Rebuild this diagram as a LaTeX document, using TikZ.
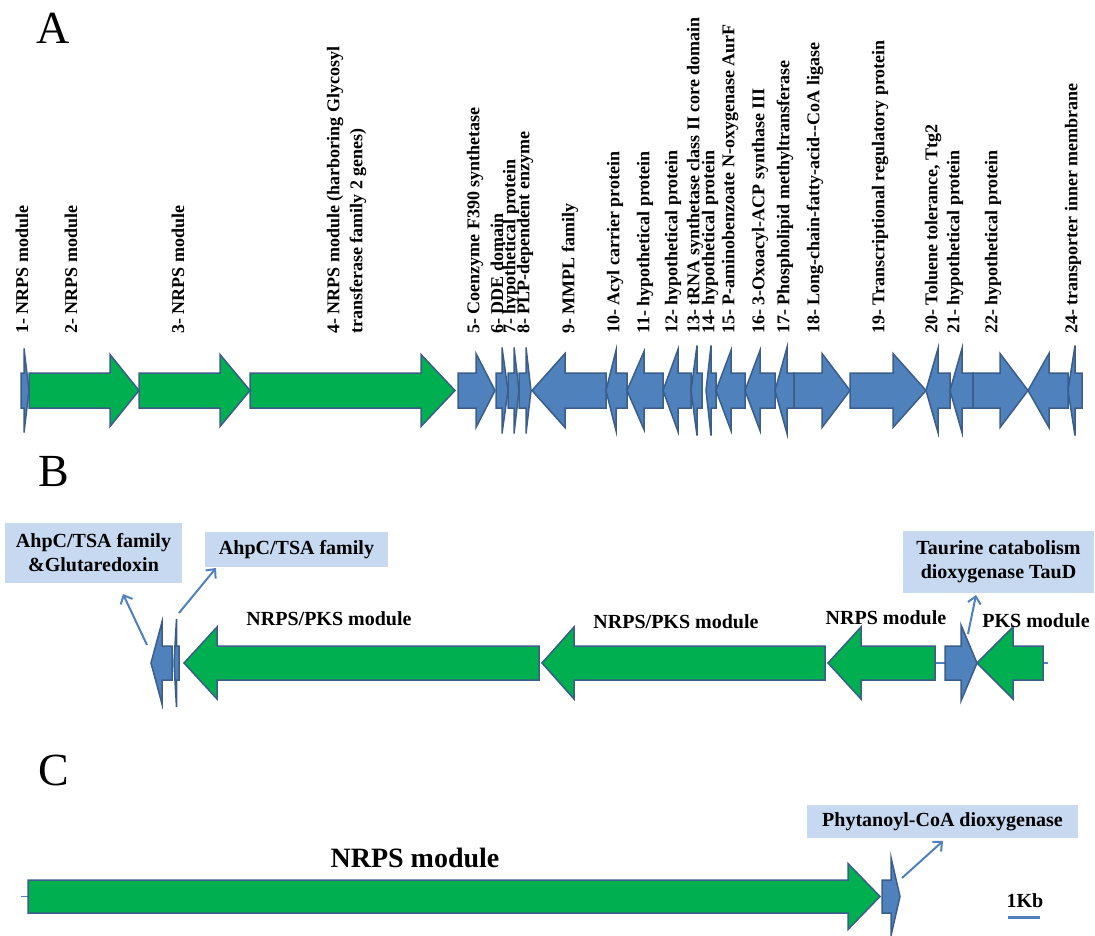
\documentclass[tikz,border=0pt]{standalone}
\usepackage{fontspec}
\setmainfont{Liberation Serif}
\usetikzlibrary{arrows.meta}
\definecolor{ggreen}{HTML}{00B050}
\definecolor{gblue}{HTML}{4F81BD}
\definecolor{gline}{HTML}{3A5D8A}
\definecolor{boxblue}{HTML}{C6D9F1}
\definecolor{connblue}{HTML}{4F81BD}
% tail x, head-base x, tip x, centre y, body half-height, head half-height, fill
\newcommand\genearrow[7]{\draw[genestyle,fill=#7] (#1,#4-#5) -- (#2,#4-#5) -- (#2,#4-#6) -- (#3,#4) -- (#2,#4+#6) -- (#2,#4+#5) -- (#1,#4+#5) -- cycle;}
\tikzset{
  genestyle/.style={draw=gline,line width=1.5pt,line join=miter},
  lab/.style={rotate=90,anchor=west,inner sep=0pt,font=\fontsize{18}{18}\selectfont\bfseries},
  modlab/.style={inner sep=0pt,font=\fontsize{20}{20}\selectfont\bfseries},
  infobox/.style={fill=boxblue,inner sep=0pt,align=center,font=\fontsize{20}{24}\selectfont\bfseries},
  conn/.style={draw=connblue,line width=2pt,-{Straight Barb[length=7pt,width=13pt,line width=2pt]}},
  panel/.style={inner sep=0pt,font=\fontsize{46}{46}\selectfont},
  backbone/.style={draw=connblue,line width=1.5pt}
}
\begin{document}
\begin{tikzpicture}[x=1pt,y=-1pt]
\useasboundingbox (0,0) rectangle (1095,936);
% ---------------- Panel A ----------------
\node[panel] (pA) at (53,28) {A};
\def\cy{390.5}
\genearrow{21}{24}{29}{\cy}{17.5}{42}{gblue}
\genearrow{29}{110}{139}{\cy}{17.5}{36}{ggreen}
\genearrow{139}{220}{250}{\cy}{17.5}{36}{ggreen}
\genearrow{250}{421}{455}{\cy}{17.5}{36}{ggreen}
\genearrow{458}{476}{495}{\cy}{17.5}{37}{gblue}
\genearrow{496}{502}{508}{\cy}{17.5}{43}{gblue}
\genearrow{508}{514}{519}{\cy}{17.5}{43}{gblue}
\genearrow{519}{526}{531}{\cy}{17.5}{43}{gblue}
\genearrow{606}{565}{532}{\cy}{17.5}{37}{gblue}
\genearrow{627}{616}{606}{\cy}{17.5}{40}{gblue}
\genearrow{663}{644}{627}{\cy}{17.5}{39}{gblue}
\genearrow{691}{678}{663}{\cy}{17.5}{41}{gblue}
\genearrow{702}{697}{691}{\cy}{17.5}{45}{gblue}
\genearrow{716}{711}{706}{\cy}{17.5}{45}{gblue}
\genearrow{745}{731}{716}{\cy}{17.5}{40}{gblue}
\genearrow{775}{760}{745}{\cy}{17.5}{40}{gblue}
\genearrow{794}{787}{775}{\cy}{17.5}{43}{gblue}
\genearrow{794}{822}{850}{\cy}{17.5}{37}{gblue}
\genearrow{850}{893}{926}{\cy}{17.5}{37}{gblue}
\genearrow{950}{938}{926}{\cy}{17.5}{42}{gblue}
\genearrow{973}{962}{950}{\cy}{17.5}{42}{gblue}
\genearrow{973}{1000}{1028}{\cy}{17.5}{37}{gblue}
\genearrow{1068}{1049}{1028}{\cy}{17.5}{37}{gblue}
\genearrow{1082}{1075}{1068}{\cy}{17.5}{45}{gblue}
% labels
\node[lab] (l1) at (22,334) {1- NRPS module};
\node[lab] (l2) at (71,334) {2- NRPS module};
\node[lab] (l3) at (178,334) {3- NRPS module};
\node[lab] (l4a) at (335,334) {4- NRPS module (harboring Glycosyl};
\node[lab] (l4b) at (358,334) {transferase family 2 genes)};
\node[lab] (l5) at (475,334) {5- Coenzyme F390 synthetase};
\node[lab] (l6) at (497,334) {6- DDE domain};
\node[lab] (l7) at (511,334) {7- hypothetical protein};
\node[lab] (l8) at (525,334) {8- PLP-dependent enzyme};
\node[lab] (l9) at (570,334) {9- MMPL family};
\node[lab] (l10) at (615,334) {10- Acyl carrier protein};
\node[lab] (l11) at (645,334) {11- hypothetical protein};
\node[lab] (l12) at (673,334) {12- hypothetical protein};
\node[lab] (l13) at (695,334) {13- tRNA synthetase class II core domain};
\node[lab] (l14) at (710,334) {14- hypothetical protein};
\node[lab] (l15) at (730,334) {15- P-aminobenzoate N-oxygenase AurF};
\node[lab] (l16) at (760,334) {16- 3-Oxoacyl-ACP synthase III};
\node[lab] (l17) at (785,334) {17- Phospholipid methyltransferase};
\node[lab] (l18) at (815,334) {18- Long-chain-fatty-acid-{}-CoA ligase};
\node[lab] (l19) at (880,334) {19- Transcriptional regulatory protein};
\node[lab] (l20) at (933,334) {20- Toluene tolerance, Ttg2};
\node[lab] (l21) at (955,334) {21- hypothetical protein};
\node[lab] (l22) at (993,334) {22- hypothetical protein};
\node[lab] (l24) at (1073,334) {24- transporter inner membrane};
% ---------------- Panel B ----------------
\node[panel] (pB) at (54,472) {B};
\def\cb{663}
\draw[backbone] (935,\cb) -- (945,\cb);
\draw[backbone] (1043,\cb) -- (1048,\cb);
\genearrow{172}{162}{151}{\cb}{17}{41}{gblue}
\genearrow{179}{176.5}{174}{\cb}{17}{44}{gblue}
\genearrow{539}{217}{184}{\cb}{17}{36}{ggreen}
\genearrow{825}{574}{542}{\cb}{17}{36}{ggreen}
\genearrow{935}{861}{828}{\cb}{17}{36}{ggreen}
\genearrow{945}{961}{977}{\cb}{17}{38}{gblue}
\genearrow{1043}{1013}{977}{\cb}{17}{36}{ggreen}
\node[modlab] (m1) at (329,619) {NRPS/PKS module};
\node[modlab] (m2) at (676,622) {NRPS/PKS module};
\node[modlab] (m3) at (886,618) {NRPS module};
\node[modlab] (m4) at (1036,621) {PKS module};
\node[infobox,minimum width=177pt,minimum height=60pt] (b1) at (93.5,553) {AhpC/TSA family\\\&Glutaredoxin};
\node[infobox,minimum width=183pt,minimum height=35pt] (b2) at (296.5,549.5) {AhpC/TSA family};
\node[infobox,minimum width=191pt,minimum height=62pt] (b3) at (998.5,562) {Taurine catabolism\\dioxygenase TauD};
\coordinate (s1) at (147,645);
\coordinate (e1) at (123,594);
\coordinate (s2) at (179,613);
\coordinate (e2) at (216,568);
\coordinate (s3) at (968,634);
\coordinate (e3) at (976,595);
\draw[conn] (s1) -- (e1);
\draw[conn] (s2) -- (e2);
\draw[conn] (s3) -- (e3);
% ---------------- Panel C ----------------
\node[panel] (pC) at (54,770) {C};
\def\cc{896.5}
\draw[backbone] (21,\cc) -- (28,\cc);
\genearrow{28}{848}{880}{\cc}{16.5}{33}{ggreen}
\genearrow{882}{891}{900}{\cc}{16.5}{39}{gblue}
\node[inner sep=0pt,font=\fontsize{28}{28}\selectfont\bfseries] (m5) at (415,858) {NRPS module};
\node[infobox,minimum width=271pt,minimum height=33pt] (b4) at (942.5,821.5) {Phytanoyl-CoA dioxygenase};
\coordinate (s4) at (902,878);
\coordinate (e4) at (943,841);
\draw[conn] (s4) -- (e4);
\node[inner sep=0pt,font=\fontsize{20}{20}\selectfont\bfseries] (kb) at (1025,901) {1Kb};
\coordinate (k1) at (1008,917);
\coordinate (k2) at (1040,917);
\draw[draw=connblue,line width=3pt] (k1) -- (k2);
\end{tikzpicture}
\end{document}
